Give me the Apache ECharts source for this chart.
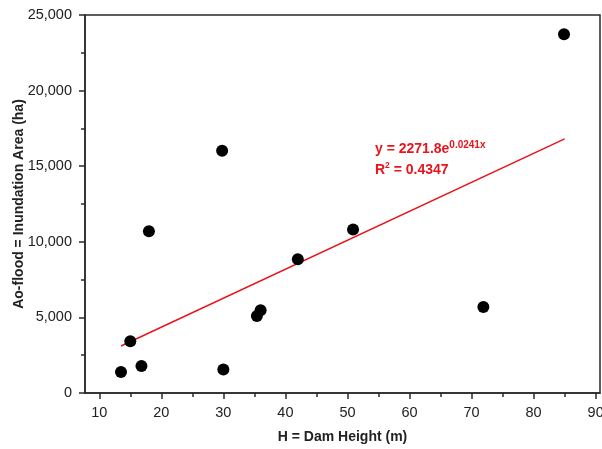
<!DOCTYPE html>
<html>
<head>
<meta charset="utf-8">
<script src="https://cdn.jsdelivr.net/npm/echarts@6/dist/echarts.min.js"></script>
<style>html,body{margin:0;padding:0;background:#fff;}#c{width:602px;height:449px;}</style>
</head>
<body>
<div id="c"></div>
<script>
// Data
var damHeight = [13.5, 15.0, 16.8, 18.0, 29.8, 30.0, 35.4, 36.0, 42.0, 50.9, 71.9, 84.9];
var floodArea = [1390, 3420, 1790, 10700, 16020, 1550, 5100, 5470, 8850, 10820, 5690, 23720];
var trendX = [13.5, 85];
var trendY = [3110, 16810];
var xTicks = [10, 20, 30, 40, 50, 60, 70, 80, 90];
var xMinorTicks = [15, 25, 35, 45, 55, 65, 75, 85];
var xTitle = 'H = Dam Height (m)';
var yTitle = 'Ao-flood = Inundation Area (ha)';
var eqMain = 'y = 2271.8e';
var eqExp = '0.0241x';
var r2R = 'R';
var r2Sup = '2';
var r2Rest = ' = 0.4347';

var scatterData = damHeight.map(function (x, i) { return [x, floodArea[i]]; });
var trendData = trendX.map(function (x, i) { return [x, trendY[i]]; });

var FONT = '"Liberation Sans", Arial, sans-serif';
var RED = '#e8141c';
var chart = echarts.init(document.getElementById('c'), null, {renderer: 'canvas'});
var richStyle = {
  m: {fontFamily: FONT, fontWeight: 'bold', fontSize: 14, lineHeight: 19, fill: RED, color: RED},
  s: {fontFamily: FONT, fontWeight: 'bold', fontSize: 10, lineHeight: 11, verticalAlign: 'top', fill: RED, color: RED},
  s2: {fontFamily: FONT, fontWeight: 'bold', fontSize: 8.5, lineHeight: 10, verticalAlign: 'top', fill: RED, color: RED}
};
chart.setOption({
  animation: false,
  backgroundColor: '#fff',
  grid: {left: 85, right: 2, top: 15, bottom: 56, outerBoundsMode: 'none', containLabel: false,
    show: true, borderColor: '#2a2a2a', borderWidth: 1.5, backgroundColor: 'transparent'},
  xAxis: [{
    type: 'value', min: 7.7, max: 90.7, position: 'bottom',
    name: xTitle, nameLocation: 'middle', nameGap: 37, nameMoveOverlap: false,
    nameTextStyle: {fontFamily: FONT, fontWeight: 'bold', fontSize: 14, color: '#222'},
    axisLine: {show: true, onZero: false, lineStyle: {color: '#2a2a2a', width: 1.5}},
    axisTick: {show: true, inside: false, length: 6, customValues: xTicks, lineStyle: {color: '#2a2a2a', width: 1.5}},
    axisLabel: {show: true, customValues: xTicks, margin: 12, fontFamily: FONT, fontSize: 14.5, color: '#222'},
    splitLine: {show: false}
  }, {
    type: 'value', min: 7.7, max: 90.7, position: 'bottom',
    axisLine: {show: false},
    axisTick: {show: true, length: 4, customValues: xMinorTicks, lineStyle: {color: '#2a2a2a', width: 1.5}},
    axisLabel: {show: false},
    splitLine: {show: false}
  }],
  yAxis: {
    type: 'value', min: 0, max: 25000, interval: 5000,
    name: yTitle, nameLocation: 'middle', nameGap: 59, nameMoveOverlap: false,
    nameTextStyle: {fontFamily: FONT, fontWeight: 'bold', fontSize: 14, color: '#222'},
    axisLine: {show: true, onZero: false, lineStyle: {color: '#2a2a2a', width: 1.5}},
    axisTick: {show: true, length: 6, lineStyle: {color: '#2a2a2a', width: 1.5}},
    minorTick: {show: true, splitNumber: 2, length: 4, lineStyle: {color: '#2a2a2a', width: 1.5}},
    axisLabel: {margin: 13, fontFamily: FONT, fontSize: 14.5, color: '#222',
      formatter: function (v) { return v.toLocaleString('en-US'); }},
    splitLine: {show: false}
  },
  series: [{
    type: 'line', data: trendData, xAxisIndex: 0, symbol: 'none', silent: true,
    lineStyle: {color: RED, width: 1.5}, z: 2
  }, {
    type: 'scatter', data: scatterData, xAxisIndex: 0, symbol: 'circle', symbolSize: 12,
    itemStyle: {color: '#000', opacity: 1}, z: 3
  }],
  graphic: [
    {type: 'text', left: 375, top: 140, style: {text: '{m|' + eqMain + '}{s|' + eqExp + '}', rich: richStyle, fill: RED}},
    {type: 'text', left: 375, top: 161, style: {text: '{m|' + r2R + '}{s2|' + r2Sup + '}{m|' + r2Rest + '}', rich: richStyle, fill: RED}}
  ]
});
</script>
</body>
</html>
